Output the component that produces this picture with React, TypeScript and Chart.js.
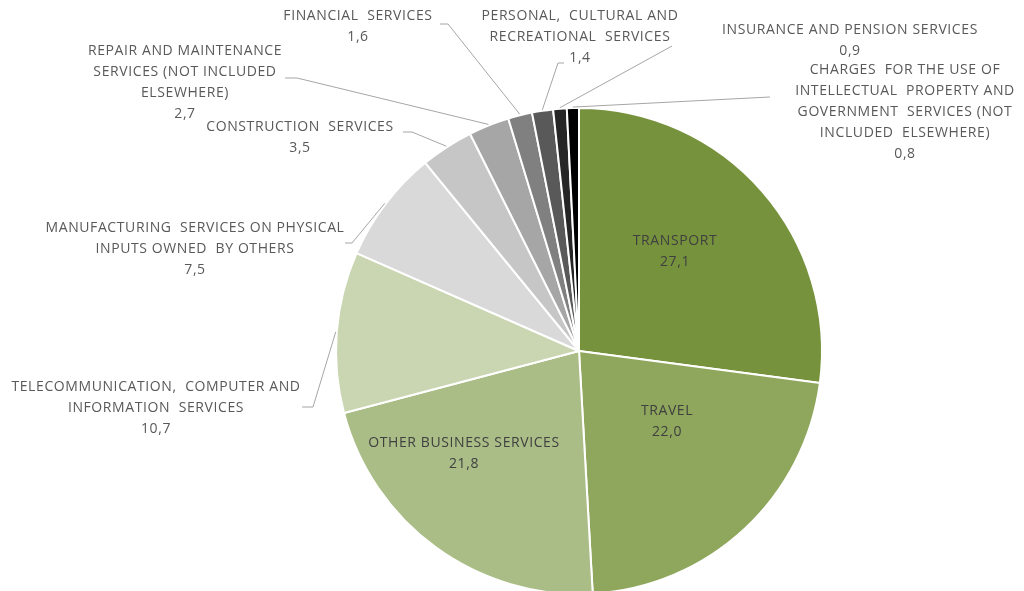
import React, { useEffect, useRef } from "react";
import { Chart, registerables } from "chart.js";

Chart.register(...registerables);

const categories: string[][] = [
  ["TRANSPORT"],
  ["TRAVEL"],
  ["OTHER BUSINESS SERVICES"],
  ["TELECOMMUNICATION,  COMPUTER AND", "INFORMATION  SERVICES"],
  ["MANUFACTURING  SERVICES ON PHYSICAL", "INPUTS OWNED  BY OTHERS"],
  ["CONSTRUCTION  SERVICES"],
  ["REPAIR AND MAINTENANCE", "SERVICES (NOT INCLUDED", "ELSEWHERE)"],
  ["FINANCIAL  SERVICES"],
  ["PERSONAL,  CULTURAL AND", "RECREATIONAL  SERVICES"],
  ["INSURANCE AND PENSION SERVICES"],
  ["CHARGES  FOR THE USE OF", "INTELLECTUAL  PROPERTY AND", "GOVERNMENT  SERVICES (NOT", "INCLUDED  ELSEWHERE)"],
];

const values: number[] = [27.1, 22.0, 21.8, 10.7, 7.5, 3.5, 2.7, 1.6, 1.4, 0.9, 0.8];

const colors: string[] = [
  "#76923c",
  "#8fa75c",
  "#aabd87",
  "#c9d6b1",
  "#d9d9d9",
  "#c6c6c6",
  "#a6a6a6",
  "#808080",
  "#595959",
  "#262626",
  "#000000",
];

// label layout: text centre x, first line y, optional leader start/elbow
type Layout = { x: number; y: number; inside?: boolean; start?: [number, number]; elbow?: [number, number] };
const labelLayout: Layout[] = [
  { x: 675, y: 241, inside: true },
  { x: 667, y: 411, inside: true },
  { x: 464, y: 443, inside: true },
  { x: 156, y: 387, start: [302, 407], elbow: [313, 407] },
  { x: 195, y: 228, start: [345, 243], elbow: [352, 243] },
  { x: 300, y: 127, start: [403, 132], elbow: [412, 132] },
  { x: 185, y: 51, start: [285, 78], elbow: [297, 78] },
  { x: 358, y: 16, start: [440, 24], elbow: [448, 24] },
  { x: 580, y: 16, start: [564, 63], elbow: [558, 63] },
  { x: 850, y: 30, start: [672, 46] },
  { x: 905, y: 70, start: [770, 97] },
];

const fmt = (v: number) => v.toFixed(1).replace(".", ",");

const labelPlugin = {
  id: "pieLabels",
  afterDatasetsDraw(chart: any) {
    const ctx: any = chart.ctx;
    const meta = chart.getDatasetMeta(0);
    ctx.save();
    ctx.font = '14px "Open Sans", sans-serif';
    ctx.letterSpacing = "0.6px";
    ctx.textAlign = "center";
    ctx.textBaseline = "middle";
    meta.data.forEach((arc: any, i: number) => {
      const lay = labelLayout[i];
      const lines = [...categories[i], fmt(values[i])];
      if (!lay.inside && lay.start) {
        const { x, y, startAngle, endAngle, outerRadius } = arc.getProps(
          ["x", "y", "startAngle", "endAngle", "outerRadius"],
          true
        );
        const a = (startAngle + endAngle) / 2;
        const ex = x + Math.cos(a) * (outerRadius + 1);
        const ey = y + Math.sin(a) * (outerRadius + 1);
        ctx.strokeStyle = "#a6a6a6";
        ctx.lineWidth = 1;
        ctx.beginPath();
        ctx.moveTo(lay.start[0], lay.start[1]);
        if (lay.elbow) ctx.lineTo(lay.elbow[0], lay.elbow[1]);
        ctx.lineTo(ex, ey);
        ctx.stroke();
      }
      ctx.fillStyle = lay.inside ? "#404040" : "#595959";
      lines.forEach((t, k) => {
        ctx.fillText(t, lay.x, lay.y + k * 21);
      });
    });
    ctx.restore();
  },
};

export default function App() {
  const ref = useRef<HTMLCanvasElement>(null);
  useEffect(() => {
    if (!ref.current) return;
    const chart = new Chart(ref.current, {
      type: "pie",
      data: {
        labels: categories.map((c) => c.join(" ")),
        datasets: [
          {
            data: values,
            backgroundColor: colors,
            borderColor: "#ffffff",
            borderWidth: 2,
          },
        ],
      },
      options: {
        responsive: false,
        animation: false,
        layout: { padding: { left: 335, right: 201, top: 107, bottom: 5 } },
        plugins: { legend: { display: false }, tooltip: { enabled: false } },
      },
      plugins: [labelPlugin],
    });
    return () => chart.destroy();
  }, []);
  return (
    <div
      style={{
        position: "fixed",
        left: 0,
        top: 0,
        width: 1024,
        height: 591,
        overflow: "hidden",
        background: "#ffffff",
      }}
    >
      <canvas ref={ref} width={1024} height={600} style={{ width: 1024, height: 600, display: "block" }} />
    </div>
  );
}
